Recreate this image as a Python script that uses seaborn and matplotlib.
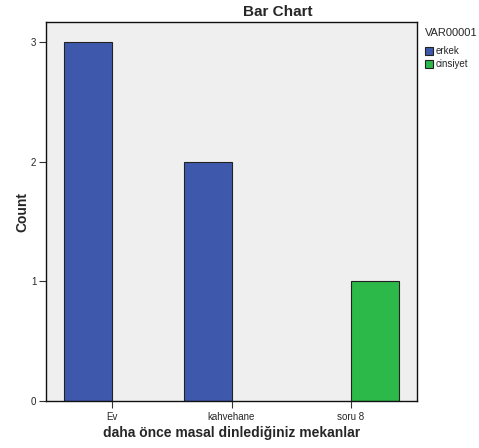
import matplotlib
matplotlib.use("Agg")
import matplotlib.pyplot as plt
import seaborn as sns
import pandas as pd

categories = ["Ev", "kahvehane", "soru 8"]
groups = ["erkek", "cinsiyet"]
erkek_counts = [3, 2, 0]
cinsiyet_counts = [0, 0, 1]
y_ticks = [0, 1, 2, 3]

rows = []
for c, v in zip(categories, erkek_counts):
    rows.append({"cat": c, "grp": "erkek", "count": v})
for c, v in zip(categories, cinsiyet_counts):
    rows.append({"cat": c, "grp": "cinsiyet", "count": v})
df = pd.DataFrame(rows)
df = df[df["count"] > 0]

sns.set_style("white")
plt.rcParams["font.family"] = ["Liberation Sans", "DejaVu Sans"]

fig = plt.figure(figsize=(4.79, 4.48), dpi=100)
ax = fig.add_axes([46/479, 1-401/448, (417-46)/479, (401-22)/448])
ax.set_facecolor("#EFEFEF")

palette = {"erkek": "#3E58AC", "cinsiyet": "#2DB84A"}
sns.barplot(data=df, x="cat", y="count", hue="grp", order=categories,
            hue_order=groups, palette=palette, width=0.8, dodge=True,
            edgecolor="#222222", linewidth=0.8, saturation=1, ax=ax,
            errorbar=None)

ax.set_xlim(-0.552, 2.552)
ax.set_ylim(0, 3.167)
ax.set_yticks(y_ticks)
ax.set_yticklabels([str(t) for t in y_ticks], fontsize=7)
ax.set_xticks([0, 1, 2])
ax.set_xticklabels(categories, fontsize=7)
ax.tick_params(axis="both", direction="out", length=5, width=0.8, color="#333333",
               pad=2, bottom=True, left=True)
ax.tick_params(axis="x", pad=3)
ax.set_xlabel("daha önce masal dinlediğiniz mekanlar", fontsize=10, fontweight="bold")
ax.set_ylabel("Count", fontsize=10, fontweight="bold")
ax.xaxis.set_label_coords(0.5, -0.084)
ax.yaxis.set_label_coords(-0.065, 0.5)
ax.xaxis.label.set_va("center")
ax.yaxis.label.set_va("center")
for s in ax.spines.values():
    s.set_color("#111111")
    s.set_linewidth(1.0)
    s.set_visible(True)

fig.text(278/479, 1-12/448, "Bar Chart", ha="center", va="center", fontsize=11, fontweight="bold")

leg = ax.legend(title="VAR00001", loc="upper left", bbox_to_anchor=(1.005, 1.0),
                frameon=False, fontsize=7, title_fontsize=8, handlelength=0.9,
                handleheight=0.9, handletextpad=0.2, labelspacing=0.3,
                alignment="left", borderaxespad=0.2)
leg._legend_box.sep = 6
for h in leg.legend_handles:
    h.set_edgecolor("#222222")
    h.set_linewidth(0.8)

fig.savefig("out.png", dpi=100)
